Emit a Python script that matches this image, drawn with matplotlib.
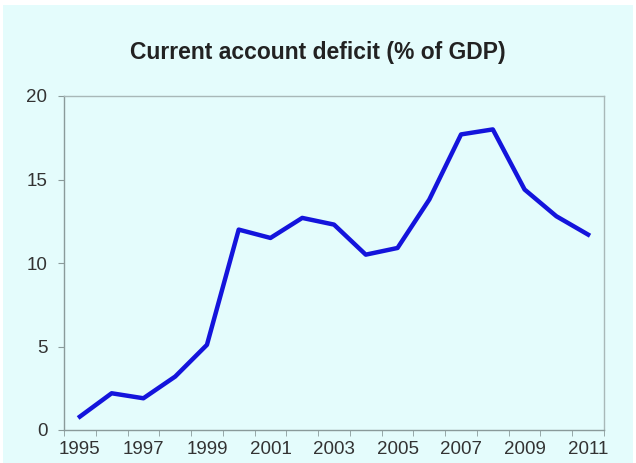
import matplotlib.pyplot as plt
import matplotlib.patches as patches
import numpy as np

# Current account deficit, % of GDP
years = list(range(1995, 2012))
deficit = [0.8, 2.2, 1.9, 3.2, 5.1, 12.0, 11.5, 12.7, 12.3, 10.5, 10.9,
           13.8, 17.7, 18.0, 14.4, 12.8, 11.7]
ytick_vals = [0, 5, 10, 15, 20]

bg = '#e4fcfc'
plt.rcParams['font.family'] = ['Liberation Sans', 'DejaVu Sans']

fig = plt.figure(figsize=(6.36, 4.63), dpi=100)
fig.patch.set_facecolor('white')
fig.patches.append(patches.Rectangle((3 / 636, 0), 630 / 636, 458 / 463,
                                     transform=fig.transFigure,
                                     facecolor=bg, edgecolor='none', zorder=-1))

ax = fig.add_axes([64 / 636, 1 - 430 / 463, 540 / 636, 334 / 463])
ax.set_facecolor(bg)

x = np.arange(len(years))
ax.plot(x, deficit, color='#1414dc', linewidth=3.2, solid_joinstyle='round')

ax.set_xlim(-0.5, len(years) - 0.5)
ax.set_ylim(0, 20)

# labels every other year, ticks at category boundaries
ax.set_xticks(x[::2])
ax.set_xticklabels([str(y) for y in years[::2]])
ax.set_xticks(np.arange(-0.5, len(years)), minor=True)
ax.tick_params(axis='x', which='major', length=0, pad=8)
ax.tick_params(axis='x', which='minor', length=4, color='#8a9a9a')

ax.set_yticks(ytick_vals)
ax.tick_params(axis='y', length=4, color='#8a9a9a', pad=8)
ax.tick_params(axis='both', labelsize=13.5, labelcolor='#333333')

for s in ax.spines.values():
    s.set_color('#a8b8b8')
    s.set_linewidth(1.0)
ax.spines['left'].set_color('#8a9a9a')
ax.spines['bottom'].set_color('#8a9a9a')

fig.text(0.5, 1 - 53 / 463, 'Current account deficit (% of GDP)',
         ha='center', va='center', fontsize=16.5, fontweight='bold',
         color='#222222')

fig.savefig('out.png', dpi=100, facecolor=fig.get_facecolor())
